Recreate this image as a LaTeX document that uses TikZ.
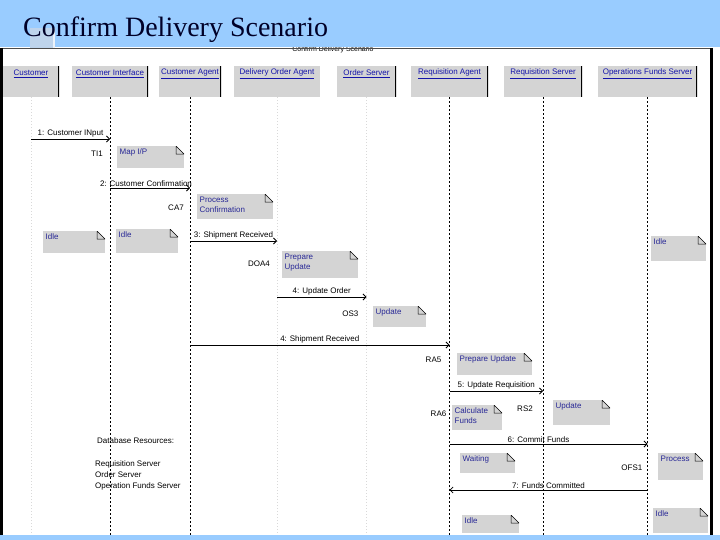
\documentclass[tikz,border=0pt]{standalone}
\usepackage{fontspec}
\setmainfont{Liberation Serif}
\setsansfont{Liberation Sans}
\usetikzlibrary{arrows.meta,positioning}

\definecolor{slideblue}{RGB}{153,204,255}
\definecolor{paleblue}{RGB}{190,212,236}
\definecolor{boxgray}{RGB}{212,212,212}
\definecolor{linkblue}{RGB}{20,20,170}
\definecolor{noteblue}{RGB}{40,40,150}
\definecolor{titlecol}{RGB}{0,0,40}

\tikzset{
  hdr/.style={fill=boxgray, minimum height=31pt, inner sep=0pt,
    path picture={\draw[black, line width=1.4pt]
      (path picture bounding box.north east) -- (path picture bounding box.south east);}},
  hdrplain/.style={fill=boxgray, minimum height=31pt, inner sep=0pt},
  hdrtxt/.style={font=\sffamily\fontsize{8}{9}\selectfont, text=linkblue, inner sep=0pt},
  life/.style={black, line width=0.8pt, dash pattern=on 2pt off 2pt},
  faint/.style={gray!30, line width=0.8pt, dash pattern=on 1pt off 2pt},
  msg/.style={black, line width=0.8pt, -{Straight Barb[length=3pt,width=6pt]}},
  lbl/.style={font=\sffamily\fontsize{8}{9}\selectfont, inner sep=1.5pt},
  role/.style={font=\sffamily\fontsize{8}{9}\selectfont, inner sep=0pt, anchor=east},
  note/.style={fill=boxgray, anchor=north west, inner sep=0pt,
    path picture={
      \fill[white] ([xshift=-8pt]path picture bounding box.north east)
        -- (path picture bounding box.north east)
        -- ([yshift=-8pt]path picture bounding box.north east) -- cycle;
      \draw[black, line width=0.5pt] ([xshift=-8pt]path picture bounding box.north east)
        -- ([xshift=-8pt,yshift=-8pt]path picture bounding box.north east)
        -- ([yshift=-8pt]path picture bounding box.north east) -- cycle;}},
  notetxt/.style={font=\sffamily\fontsize{8}{10}\selectfont, text=noteblue,
    anchor=north west, align=left, inner sep=2.5pt},
}

\begin{document}
\begin{tikzpicture}[x=1pt, y=-1pt]
  \useasboundingbox (0,0) rectangle (720,540);

  % slide and screenshot frame
  \fill[white] (0,0) rectangle (720,540);
  \node[font=\sffamily\fontsize{7}{8}\selectfont, inner sep=0pt] (cap) at (333,50) {Confirm Delivery Scenario};
  \fill[slideblue] (0,0) rectangle (720,47.5);
  \fill[slideblue] (0,535) rectangle (720,540);
  \fill[paleblue] (30,28) rectangle (53,48);
  \fill[white!70!paleblue] (53,28) rectangle (55,48);
  \node[anchor=base west, font=\fontsize{28}{30}\selectfont, text=titlecol, inner sep=0pt] (title) at (23,37) {Confirm Delivery Scenario};
  \draw[gray!60!black, line width=0.8pt] (0,48) -- (713,48);
  \draw[black, line width=3pt] (1.5,48) -- (1.5,535);
  \draw[black, line width=3.5pt] (711.5,48) -- (711.5,535);

  % object headers
  \node[hdr, minimum width=56] (hCus) at (31,81.5) {};
  \node[hdr, minimum width=76] (hCI) at (110,81.5) {};
  \node[hdr, minimum width=62] (hCA) at (190,81.5) {};
  \node[hdrplain, minimum width=86] (hDOA) at (277,81.5) {};
  \node[hdr, minimum width=59] (hOS) at (366.5,81.5) {};
  \node[hdr, minimum width=77] (hRA) at (449.5,81.5) {};
  \node[hdr, minimum width=78] (hRS) at (543,81.5) {};
  \node[hdr, minimum width=99] (hOFS) at (647.5,81.5) {};
  \foreach \h/\t in {hCus/Customer, hCI/Customer Interface, hCA/Customer Agent,
      hDOA/Delivery Order Agent, hOS/Order Server, hRA/Requisition Agent,
      hRS/Requisition Server, hOFS/Operations Funds Server}
    \node[hdrtxt] at ([yshift=-8pt]\h.north) {\underline{\t}};

  % lifelines
  \foreach \h in {hCus, hDOA, hOS}
    \draw[faint] (\h.south) -- (\h.south |- 0,535);
  \foreach \h in {hCI, hCA, hRA, hRS, hOFS}
    \draw[life] (\h.south) -- (\h.south |- 0,535);

  % state notes
  \node[note, minimum width=67, minimum height=22] (nMap) at (117,146) {};
  \node[notetxt] at (nMap.north west) {Map I/P};
  \node[note, minimum width=76, minimum height=25] (nProcConf) at (197,194) {};
  \node[notetxt] at (nProcConf.north west) {Process\\Confirmation};
  \node[note, minimum width=62, minimum height=22] (nIdleCus) at (43,231) {};
  \node[notetxt] at (nIdleCus.north west) {Idle};
  \node[note, minimum width=62, minimum height=24] (nIdleCI) at (116,229) {};
  \node[notetxt] at (nIdleCI.north west) {Idle};
  \node[note, minimum width=55, minimum height=25] (nIdleOFS) at (651,236) {};
  \node[notetxt] at (nIdleOFS.north west) {Idle};
  \node[note, minimum width=76, minimum height=27] (nPrepDOA) at (282,251) {};
  \node[notetxt] at (nPrepDOA.north west) {Prepare\\Update};
  \node[note, minimum width=53, minimum height=21] (nUpdOS) at (373,306) {};
  \node[notetxt] at (nUpdOS.north west) {Update};
  \node[note, minimum width=75, minimum height=22] (nPrepRA) at (457,353) {};
  \node[notetxt] at (nPrepRA.north west) {Prepare Update};
  \node[note, minimum width=50, minimum height=25] (nCalc) at (452,405) {};
  \node[notetxt] at (nCalc.north west) {Calculate\\Funds};
  \node[note, minimum width=57, minimum height=25] (nUpdRS) at (553,400) {};
  \node[notetxt] at (nUpdRS.north west) {Update};
  \node[note, minimum width=55, minimum height=20] (nWait) at (460,453) {};
  \node[notetxt] at (nWait.north west) {Waiting};
  \node[note, minimum width=45, minimum height=27] (nProc) at (658,453) {};
  \node[notetxt] at (nProc.north west) {Process};
  \node[note, minimum width=57, minimum height=18] (nIdleRA) at (462,515) {};
  \node[notetxt] at (nIdleRA.north west) {Idle};
  \node[note, minimum width=55, minimum height=25] (nIdleOFSb) at (653,508) {};
  \node[notetxt] at (nIdleOFSb.north west) {Idle};

  % messages
  \draw[msg] (hCus |- 0,139) -- node[lbl, above] {1: Customer INput} (hCI |- 0,139);
  \draw[msg] (hCI |- 0,188) -- node[lbl, above, xshift=-4pt] {2: Customer Confirmation} (hCA |- 0,188);
  \draw[msg] (hCA |- 0,241) -- node[lbl, above] {3: Shipment Received} (hDOA |- 0,241);
  \draw[msg] (hDOA |- 0,297) -- node[lbl, above] {4: Update Order} (hOS |- 0,297);
  \draw[msg] (hCA |- 0,345) -- node[lbl, above] {4: Shipment Received} (hRA |- 0,345);
  \draw[msg] (hRA |- 0,391) -- node[lbl, above] {5: Update Requisition} (hRS |- 0,391);
  \draw[msg] (hRA |- 0,444) -- node[lbl, above, xshift=-10pt] {6: Commit Funds} (hOFS |- 0,444);
  \draw[msg] (hOFS |- 0,490) -- node[lbl, above] {7: Funds Committed} (hRA |- 0,490);

  % object labels
  \node[role] at ([xshift=-7pt]hCI |- 0,154) {TI1};
  \node[role] at ([xshift=-6pt]hCA |- 0,208) {CA7};
  \node[role] at ([xshift=-7pt]hDOA |- 0,264) {DOA4};
  \node[role] at ([xshift=-8pt]hOS |- 0,314) {OS3};
  \node[role] at ([xshift=-8pt]hRA |- 0,360) {RA5};
  \node[role] at ([xshift=-3pt]hRA |- 0,414) {RA6};
  \node[role] at ([xshift=-10pt]hRS |- 0,409) {RS2};
  \node[role] at ([xshift=-5pt]hOFS |- 0,468) {OFS1};

  % resources
  \node[font=\sffamily\fontsize{8}{11.5}\selectfont, anchor=north west, align=left, inner sep=0pt] (res) at (95,437)
    {\hspace{2pt}Database Resources:\\[11.5pt]Requisition Server\\Order Server\\Operation Funds Server};
\end{tikzpicture}
\end{document}
